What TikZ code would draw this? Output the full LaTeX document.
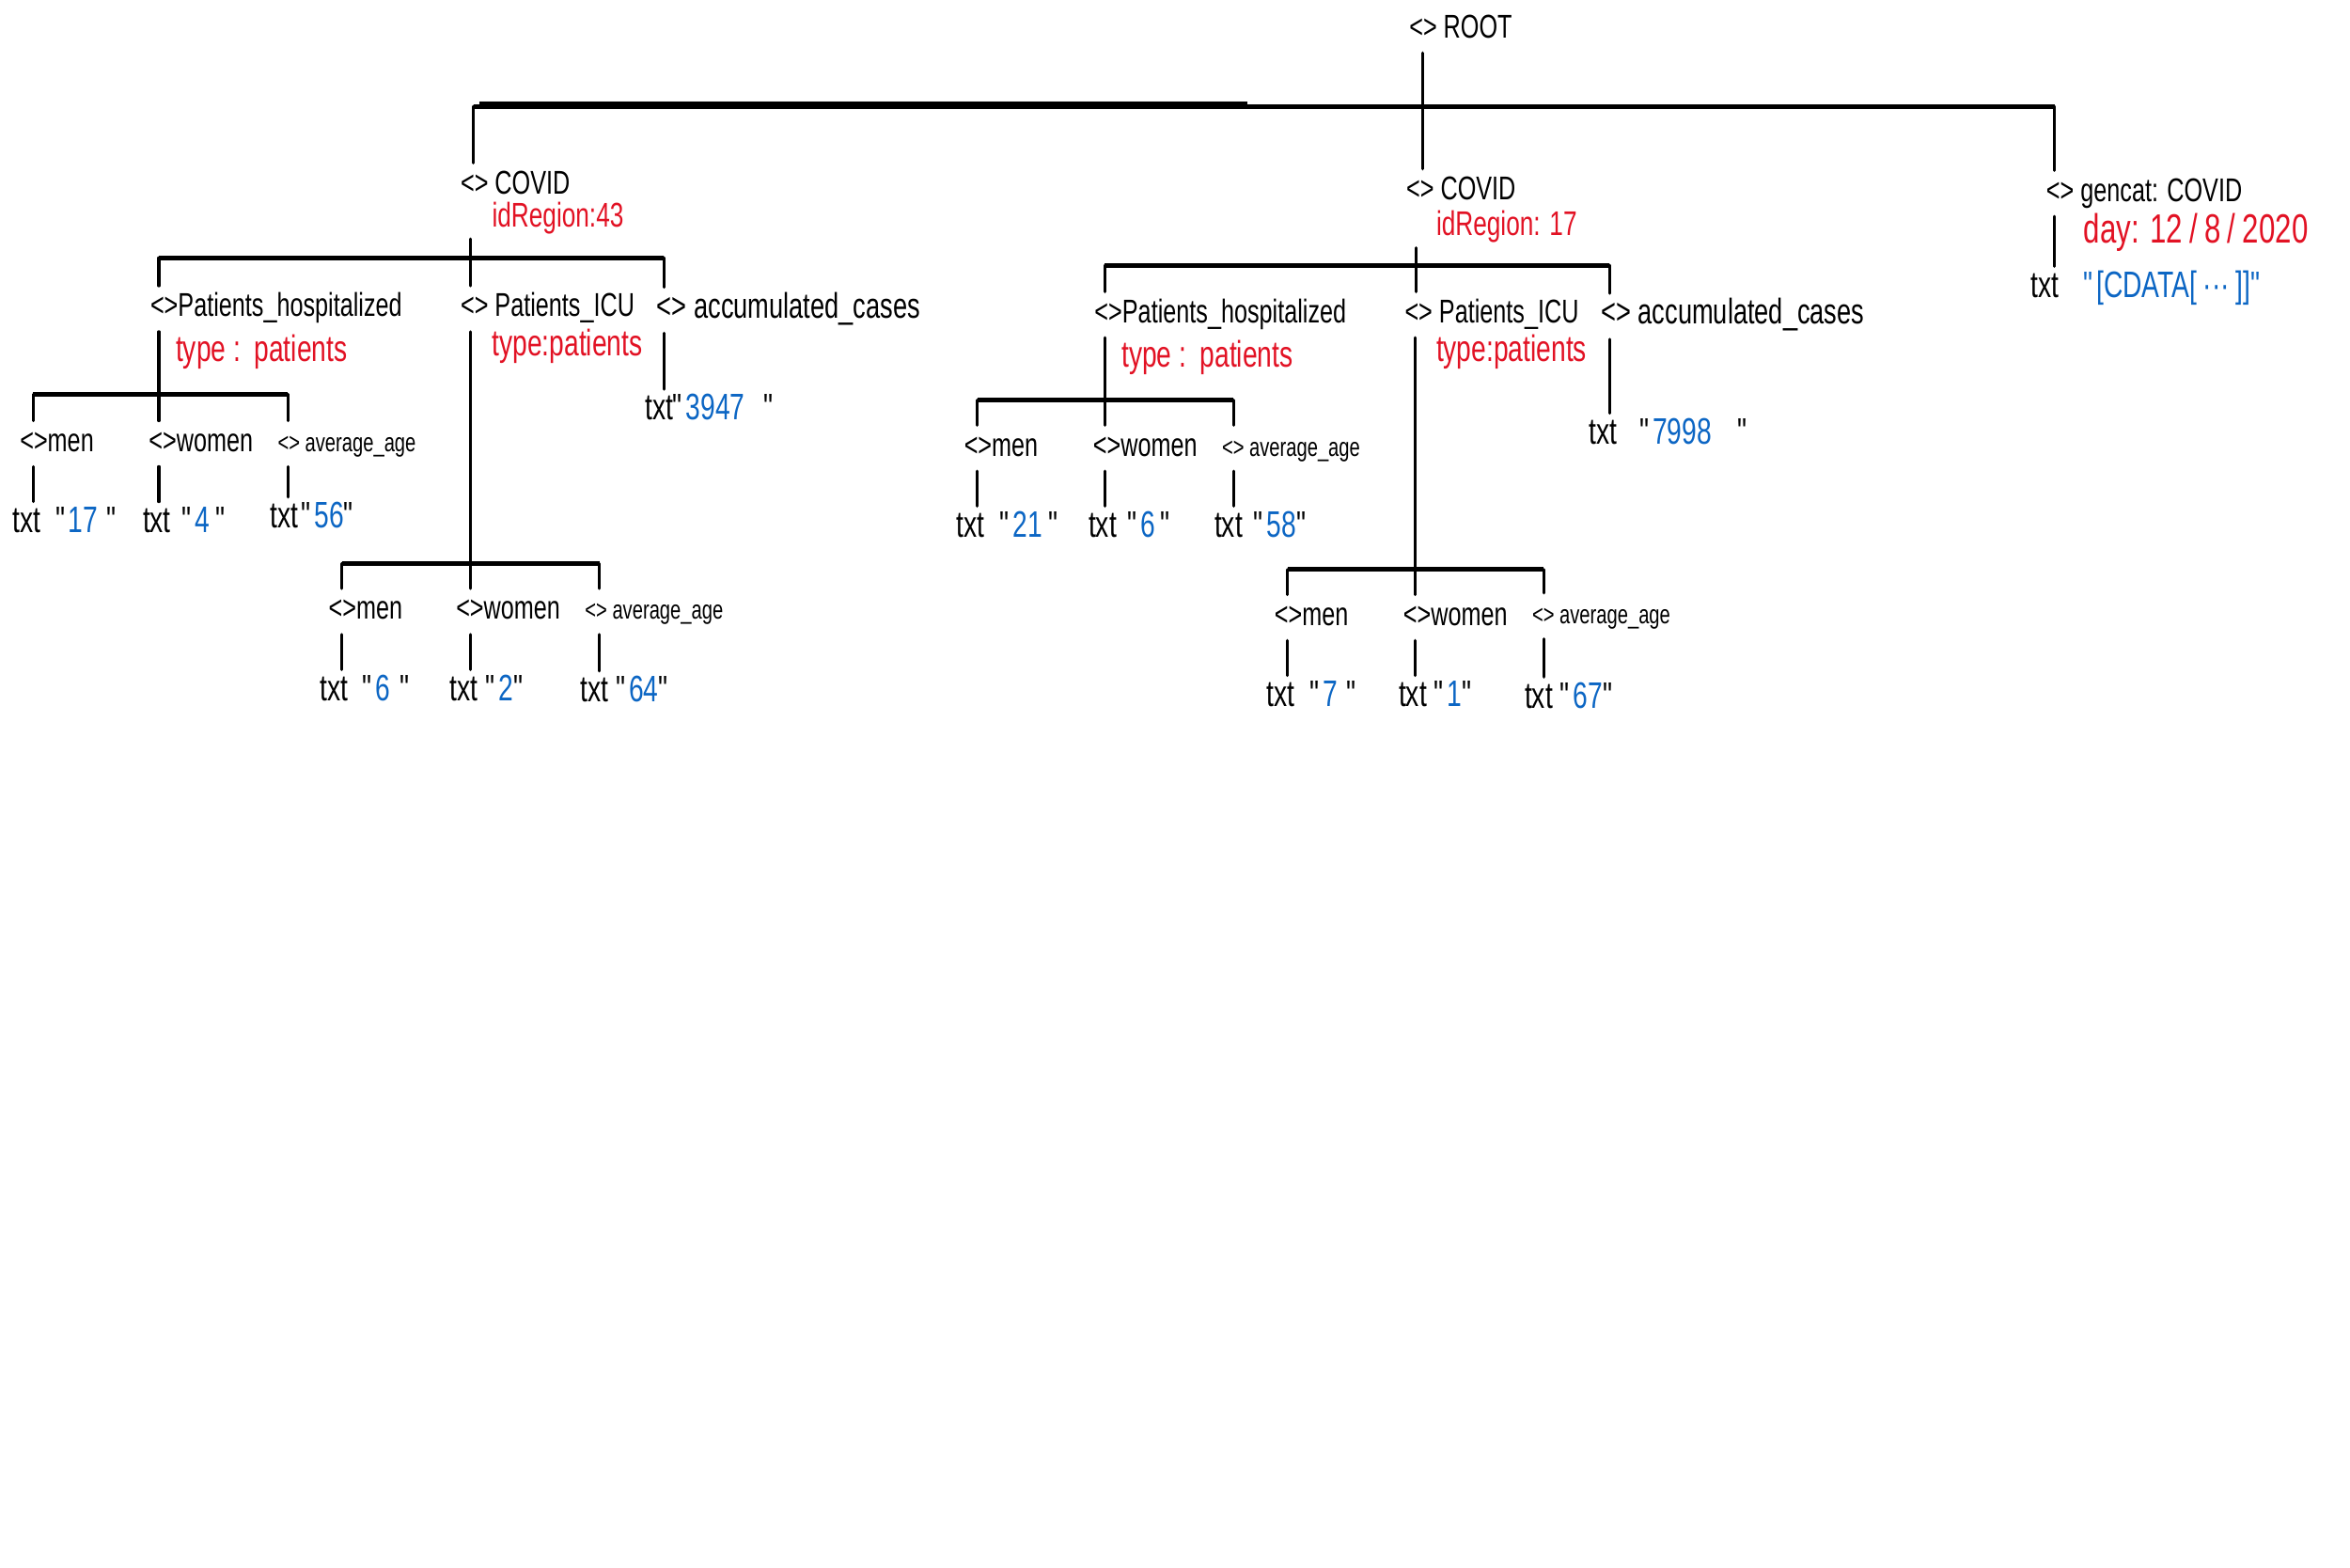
\documentclass[tikz,border=0pt]{standalone}
\usepackage{fontspec}
\setmainfont{Liberation Sans}[FakeStretch=0.72]
\usetikzlibrary{calc}
\definecolor{myred}{RGB}{226,18,36}
\definecolor{vblue}{RGB}{12,102,196}
\newcommand\myval[1]{\textcolor{vblue}{#1}}
\newcommand\qq{\textquotedbl}
\begin{document}
\begin{tikzpicture}[x=0.02cm,y=-0.02cm,
  tag/.style={anchor=west, inner xsep=0pt, inner ysep=3pt, text height=8.5pt, text depth=2.5pt,
              font=\fontsize{12.5}{14}\selectfont},
  smalltag/.style={tag, font=\fontsize{10}{12}\selectfont},
  bigtag/.style={tag, font=\fontsize{13.5}{15}\selectfont},
  tval/.style={tag, font=\fontsize{14}{16}\selectfont},
  attr/.style={anchor=west, inner xsep=0pt, inner ysep=1.5pt, text height=10pt, text depth=3pt,
               text=myred, font=\fontsize{13}{15}\selectfont},
  bigattr/.style={attr, font=\fontsize{14}{16}\selectfont},
  conn/.style={line width=1.1pt, line cap=round},
  bar/.style={line width=1.75pt}]
\fill[white] (0,0) rectangle (1568,1046);
\useasboundingbox (0,0) rectangle (1568,1046);

% ---------- nodes: top level ----------
\node[tag] (root) at (940,20) {<> ROOT};
\node[tag] (cv1) at (307,124) {<> COVID};
\node[attr] (id1) at (328,145) {idRegion:43};
\node[tag] (cv2) at (938,128) {<> COVID};
\node[attr] (id2) at (958,151) {idRegion: 17};
\node[tag] (gc) at (1365,129) {<> gencat: COVID};
\node[attr, text height=9pt, font=\fontsize{15.5}{17}\selectfont] (day) at (1390,157) {day: 12\,/\,8\,/\,2020};
\node[tval] (gtxt) at (1355,193) {txt\hspace{0.32cm}\myval{\qq[CDATA[\,···\,]]\qq}};

% ---------- COVID 1 ----------
\node[tag] (ph1) at (100,206) {<>Patients\_hospitalized};
\node[bigattr] (ph1t) at (117,235) {type\ :\ \,patients};
\node[tag] (icu1) at (307,206) {<> Patients\_ICU};
\node[bigattr] (icu1t) at (328,231) {type:patients};
\node[bigtag] (acc1) at (438,207) {<> accumulated\_cases};
\node[tval] (acc1v) at (430,275) {txt\qq\myval{3947}\hspace{0.25cm}\qq};

\node[tag] (m1) at (13,296) {<>men};
\node[tag] (w1) at (99,296) {<>women};
\node[smalltag] (a1) at (185,296) {<> average\_age};
\node[tval] (m1v) at (8,350) {txt\hspace{0.2cm}\qq\myval{17}\hspace{0.12cm}\qq};
\node[tval] (w1v) at (95,350) {txt\hspace{0.15cm}\qq\myval{4}\hspace{0.08cm}\qq};
\node[tval] (a1v) at (180,347) {txt\hspace{0.04cm}\qq\myval{56}\qq};

\node[tag] (m2) at (219,408) {<>men};
\node[tag] (w2) at (304,408) {<>women};
\node[smalltag] (a2) at (390,408) {<> average\_age};
\node[tval] (m2v) at (213,462) {txt\hspace{0.2cm}\qq\myval{6}\hspace{0.12cm}\qq};
\node[tval] (w2v) at (300,462) {txt\hspace{0.1cm}\qq\myval{2}\qq};
\node[tval] (a2v) at (387,463) {txt\hspace{0.1cm}\qq\myval{64}\qq};

% ---------- COVID 2 ----------
\node[tag] (ph2) at (730,210) {<>Patients\_hospitalized};
\node[bigattr] (ph2t) at (748,239) {type\ :\ \,patients};
\node[tag] (icu2) at (937,210) {<> Patients\_ICU};
\node[bigattr] (icu2t) at (958,235) {type:patients};
\node[bigtag] (acc2) at (1068,211) {<> accumulated\_cases};
\node[tval] (acc2v) at (1060,291) {txt\hspace{0.3cm}\qq\myval{7998}\hspace{0.35cm}\qq};

\node[tag] (m3) at (643,299) {<>men};
\node[tag] (w3) at (729,299) {<>women};
\node[smalltag] (a3) at (815,299) {<> average\_age};
\node[tval] (m3v) at (638,353) {txt\hspace{0.2cm}\qq\myval{21}\hspace{0.08cm}\qq};
\node[tval] (w3v) at (726,353) {txt\hspace{0.15cm}\qq\myval{6}\hspace{0.06cm}\qq};
\node[tval] (a3v) at (810,353) {txt\hspace{0.15cm}\qq\myval{58}\qq};

\node[tag] (m4) at (850,412) {<>men};
\node[tag] (w4) at (936,412) {<>women};
\node[smalltag] (a4) at (1022,411) {<> average\_age};
\node[tval] (m4v) at (845,466) {txt\hspace{0.2cm}\qq\myval{7}\hspace{0.12cm}\qq};
\node[tval] (w4v) at (933,466) {txt\hspace{0.1cm}\qq\myval{1}\qq};
\node[tval] (a4v) at (1017,467) {txt\hspace{0.1cm}\qq\myval{67}\qq};

% ---------- bar coordinates ----------
\coordinate (b0L) at (316,71);  \coordinate (b0M) at (949,71);  \coordinate (b0R) at (1371,71);
\coordinate (b1L) at (106,172); \coordinate (b1M) at (314,172); \coordinate (b1R) at (443,172);
\coordinate (b2L) at (22,263);  \coordinate (b2M) at (106,263); \coordinate (b2R) at (192,263);
\coordinate (b3L) at (228,376); \coordinate (b3M) at (314,376); \coordinate (b3R) at (400,376);
\coordinate (b4L) at (737,177); \coordinate (b4M) at (945,177); \coordinate (b4R) at (1074,177);
\coordinate (b5L) at (652,267); \coordinate (b5M) at (737,267); \coordinate (b5R) at (823,267);
\coordinate (b6L) at (859,380); \coordinate (b6M) at (944,380); \coordinate (b6R) at (1030,380);

% ---------- top level connectors ----------
\draw[bar] (b0L) -- (b0R);
\draw[line width=2.3pt] ($(b0L)+(4,-1)$) -- ($(b0L)+(516,-1)$);
\draw[conn] (root.south -| b0M) -- (b0M |- cv2.north);
\draw[conn] (b0L) -- (b0L |- cv1.north);
\draw[conn] (b0R) -- (b0R |- gc.north);
\draw[conn] (gc.south -| b0R) -- (b0R |- gtxt.north);

% ---------- COVID 1 connectors ----------
\draw[bar] (b1L) -- (b1R);
\draw[conn] (id1.south -| b1M) -- (b1M |- icu1.north);
\draw[conn] (b1L) -- (b1L |- ph1.north);
\draw[conn] (b1R) -- (b1R |- acc1.north);
\draw[conn] (acc1.south -| b1R) -- (b1R |- acc1v.north);

\draw[conn] (ph1.south -| b2M) -- (b2M);
\draw[bar] (b2L) -- (b2R);
\draw[conn] (b2L) -- (b2L |- m1.north);
\draw[conn] (b2M) -- (b2M |- w1.north);
\draw[conn] (b2R) -- (b2R |- a1.north);
\draw[conn] (m1.south -| b2L) -- (b2L |- m1v.north);
\draw[conn] (w1.south -| b2M) -- (b2M |- w1v.north);
\draw[conn] (a1.south -| b2R) -- (b2R |- a1v.north);

\draw[conn] (icu1.south -| b3M) -- (b3M);
\draw[bar] (b3L) -- (b3R);
\draw[conn] (b3L) -- (b3L |- m2.north);
\draw[conn] (b3M) -- (b3M |- w2.north);
\draw[conn] (b3R) -- (b3R |- a2.north);
\draw[conn] (m2.south -| b3L) -- (b3L |- m2v.north);
\draw[conn] (w2.south -| b3M) -- (b3M |- w2v.north);
\draw[conn] (a2.south -| b3R) -- (b3R |- a2v.north);

% ---------- COVID 2 connectors ----------
\draw[bar] (b4L) -- (b4R);
\draw[conn] (id2.south -| b4M) -- (b4M |- icu2.north);
\draw[conn] (b4L) -- (b4L |- ph2.north);
\draw[conn] (b4R) -- (b4R |- acc2.north);
\draw[conn] (acc2.south -| b4R) -- (b4R |- acc2v.north);

\draw[conn] (ph2.south -| b5M) -- (b5M);
\draw[bar] (b5L) -- (b5R);
\draw[conn] (b5L) -- (b5L |- m3.north);
\draw[conn] (b5M) -- (b5M |- w3.north);
\draw[conn] (b5R) -- (b5R |- a3.north);
\draw[conn] (m3.south -| b5L) -- (b5L |- m3v.north);
\draw[conn] (w3.south -| b5M) -- (b5M |- w3v.north);
\draw[conn] (a3.south -| b5R) -- (b5R |- a3v.north);

\draw[conn] (icu2.south -| b6M) -- (b6M);
\draw[bar] (b6L) -- (b6R);
\draw[conn] (b6L) -- (b6L |- m4.north);
\draw[conn] (b6M) -- (b6M |- w4.north);
\draw[conn] (b6R) -- (b6R |- a4.north);
\draw[conn] (m4.south -| b6L) -- (b6L |- m4v.north);
\draw[conn] (w4.south -| b6M) -- (b6M |- w4v.north);
\draw[conn] (a4.south -| b6R) -- (b6R |- a4v.north);
\end{tikzpicture}
\end{document}
